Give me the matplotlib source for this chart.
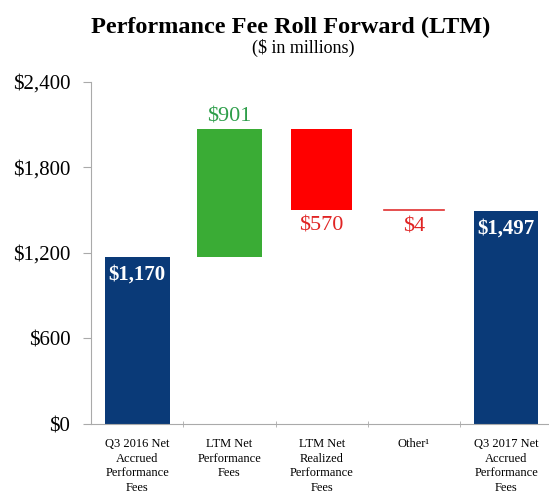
import matplotlib
matplotlib.use("Agg")
import matplotlib.pyplot as plt
import numpy as np

categories = ["Q3 2016 Net\nAccrued\nPerformance\nFees", "LTM Net\nPerformance\nFees",
              "LTM Net\nRealized\nPerformance\nFees", "Other\u00b9", "Q3 2017 Net\nAccrued\nPerformance\nFees"]
changes = [1170, 901, -570, -4, 1497]
kinds = ["total", "up", "down", "down", "total"]
labels = ["$1,170", "$901", "$570", "$4", "$1,497"]
yticks = [0, 600, 1200, 1800, 2400]

plt.rcParams['font.family'] = ['Liberation Serif', 'DejaVu Serif']

fig = plt.figure(figsize=(5.49, 4.94), dpi=100)
ax = fig.add_axes([0.166, 0.1417, 0.84, 0.6925])

navy = "#0a3a78"
green = "#3aac35"
red = "#ff0000"
x = np.arange(len(categories))
running = 0
for i, (c, k) in enumerate(zip(changes, kinds)):
    if k == "total":
        bottom, height = 0, c
        running = c
        ax.bar(i, height, bottom=bottom, width=0.70, color=navy)
        ax.text(i, height - 55, labels[i], ha="center", va="top", color="white",
                fontsize=15, fontweight="bold")
    elif k == "up":
        bottom, height = running, c
        running += c
        ax.bar(i, height, bottom=bottom, width=0.70, color=green)
        ax.text(i, running + 15, labels[i], ha="center", va="bottom", color="#2e9e4a", fontsize=16)
    else:
        top = running
        running += c
        if abs(c) < 20:
            ax.plot([i - 0.33, i + 0.33], [top, top], color="#e03030", lw=1.2)
        else:
            ax.bar(i, -c, bottom=running, width=0.66, color=red)
        ax.text(i, running - 45, labels[i], ha="center", va="top", color="#e02424", fontsize=16)

ax.set_xlim(-0.5, 4.5)
ax.set_ylim(0, 2400)
ax.set_yticks(yticks)
ax.set_yticklabels([f"${v:,}" for v in yticks], fontsize=15)
ax.set_xticks(x)
ax.set_xticklabels(categories, fontsize=9, linespacing=1.3, va="top")
ax.tick_params(axis="x", length=0, pad=10)
ax.set_xticks(np.arange(0.5, 4.5, 1), minor=True)
ax.tick_params(axis="x", which="minor", length=5, color="#aaaaaa", direction="inout")
ax.tick_params(axis="y", length=6, color="#aaaaaa", pad=9)
for s in ["top", "right"]:
    ax.spines[s].set_visible(False)
ax.spines["left"].set_color("#aaaaaa")
ax.spines["bottom"].set_color("#aaaaaa")

fig.text(0.53, 0.945, "Performance Fee Roll Forward (LTM)", ha="center", va="center",
         fontsize=17.5, fontweight="bold")
fig.text(0.552, 0.903, "($ in millions)", ha="center", va="center", fontsize=13)

fig.savefig("out.png", dpi=100)
